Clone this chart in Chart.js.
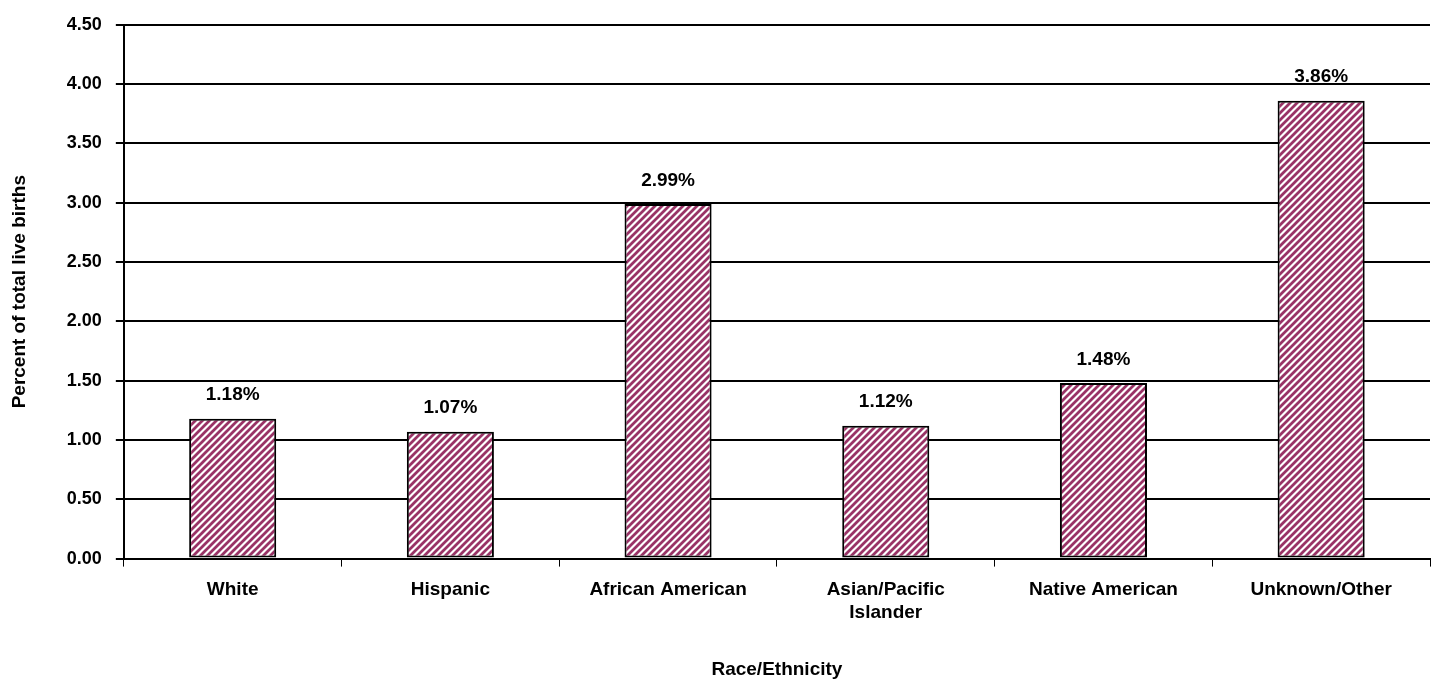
<!DOCTYPE html>
<html lang="en">
<head>
<meta charset="UTF-8">
<title>Percent of total live births by race/ethnicity</title>
<script src="https://cdn.jsdelivr.net/npm/chart.js"></script>
<style>
    body { margin: 0; background: #fff; }
    #wrap { width: 1436px; height: 687px; }
</style>
</head>
<body>
<div id="wrap"><canvas id="chart"></canvas></div>
<script>
var categories = ['White', 'Hispanic', 'African American', ['Asian/Pacific', 'Islander'], 'Native American', 'Unknown/Other'];
var percents = [1.18, 1.07, 2.99, 1.12, 1.48, 3.86];
var yTicks = [0, 0.5, 1, 1.5, 2, 2.5, 3, 3.5, 4, 4.5];

// diagonal hatch like the old excel fill
function hatch() {
    var c = document.createElement('canvas');
    c.width = 7; c.height = 7;
    var g = c.getContext('2d');
    g.fillStyle = '#fff';
    g.fillRect(0, 0, 7, 7);
    g.strokeStyle = '#993366';
    g.lineWidth = 2.8;
    g.beginPath();
    g.moveTo(-1, 8); g.lineTo(8, -1);
    g.moveTo(-5, 5); g.lineTo(5, -5);
    g.moveTo(2, 12); g.lineTo(12, 2);
    g.stroke();
    return g.createPattern(c, 'repeat');
}

var labelPlugin = {
    id: 'valueLabels',
    afterDatasetsDraw: function (chart) {
        var ctx = chart.ctx;
        ctx.save();
        ctx.font = 'bold 19px Arial, "Liberation Sans", sans-serif';
        ctx.fillStyle = '#000';
        ctx.textAlign = 'center';
        ctx.textBaseline = 'bottom';
        chart.getDatasetMeta(0).data.forEach(function (bar, i) {
            ctx.fillText(percents[i].toFixed(2) + '%', bar.x, bar.y - 14);
        });
        ctx.restore();
    }
};

new Chart(document.getElementById('chart'), {
    type: 'bar',
    data: {
        labels: categories,
        datasets: [{
            data: percents,
            backgroundColor: hatch(),
            borderColor: '#000',
            borderWidth: 2,
            borderSkipped: false,
            categoryPercentage: 1,
            barPercentage: 0.4
        }]
    },
    options: {
        responsive: true,
        maintainAspectRatio: false,
        animation: false,
        layout: { padding: { top: 8, right: 6, left: 4, bottom: 2 } },
        plugins: { legend: { display: false }, tooltip: { enabled: false } },
        scales: {
            x: {
                grid: { display: true, drawOnChartArea: false, color: '#000', tickLength: 8, offset: true },
                border: { color: '#000', width: 2 },
                ticks: { color: '#000', font: { family: 'Arial, "Liberation Sans"', size: 19, weight: 'bold' }, padding: 12, maxRotation: 0 },
                title: { display: true, text: 'Race/Ethnicity', color: '#000', font: { family: 'Arial, "Liberation Sans"', size: 19, weight: 'bold' }, padding: { top: 22 } }
            },
            y: {
                min: 0, max: 4.5,
                afterBuildTicks: function (axis) { axis.ticks = yTicks.map(function (v) { return { value: v }; }); },
                grid: { color: '#000', lineWidth: 2, tickLength: 8 },
                border: { color: '#000', width: 2 },
                ticks: { color: '#000', font: { family: 'Arial, "Liberation Sans"', size: 18, weight: 'bold' }, padding: 14, callback: function (v) { return v.toFixed(2); } },
                title: { display: true, text: 'Percent of total live births', color: '#000', font: { family: 'Arial, "Liberation Sans"', size: 19, weight: 'bold' }, padding: { bottom: 22 } }
            }
        }
    },
    plugins: [labelPlugin]
});
</script>
</body>
</html>
